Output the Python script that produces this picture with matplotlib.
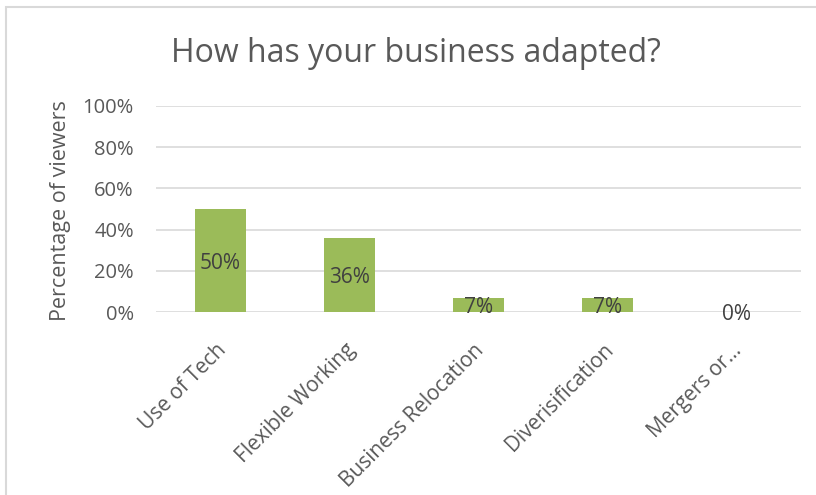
import numpy as np
import matplotlib.pyplot as plt
import matplotlib.transforms as mtransforms

categories = ["Use of Tech", "Flexible Working", "Business Relocation", "Diverisification", "Mergers or..."]
values = [50, 36, 7, 7, 0]
yticks = [0, 20, 40, 60, 80, 100]

text_color = "#595959"
bar_color = "#9BBB59"

plt.rcParams['font.family'] = ['Open Sans', 'DejaVu Sans']

fig = plt.figure(figsize=(8.16, 4.95), dpi=100)
# plot area: x 156..801, y 106..312 (pixels)
ax = fig.add_axes([156 / 816, 1 - 312 / 495, 645 / 816, 206 / 495])

x = np.arange(len(categories))
ax.bar(x, values, width=0.4, color=bar_color, zorder=3)

for xi, v in zip(x, values):
    ax.annotate(f"{v}%", (xi, v / 2), xytext=(0, -2), textcoords="offset points",
                ha="center", va="center", fontsize=15, color="#404040", zorder=4)

ax.set_xlim(-0.5, len(categories) - 0.5)
ax.set_ylim(0, 100)
ax.set_yticks(yticks)
ax.set_yticklabels([f"{t}%" for t in yticks], fontsize=14.5, color=text_color)
ax.set_xticks(x)
ax.set_xticklabels(categories, rotation=45, ha="right", rotation_mode="anchor",
                   fontsize=15, color=text_color)
ax.tick_params(axis="y", length=0, pad=16)
ax.tick_params(axis="x", length=0, pad=20)
shift = mtransforms.ScaledTranslation(-5 / 100, 0, fig.dpi_scale_trans)
for lbl in ax.get_xticklabels():
    lbl.set_transform(lbl.get_transform() + shift)
ax.grid(axis="y", color="#D9D9D9", linewidth=1.2, zorder=0)
for s in ax.spines.values():
    s.set_visible(False)

ax.set_ylabel("Percentage of viewers", fontsize=15.5, color=text_color)
ax.yaxis.set_label_coords(-0.132, 0.49)

fig.text(416 / 816, 1 - 54 / 495, "How has your business adapted?", ha="center", va="center",
         fontsize=23, color=text_color)

# chart area border
border = plt.Rectangle((5.5 / 816, -0.01), 1, 1 - 7 / 495 + 0.01, transform=fig.transFigure,
                       fill=False, edgecolor="#D9D9D9", linewidth=1.5)
fig.patches.append(border)

fig.savefig("out.png", dpi=100)
